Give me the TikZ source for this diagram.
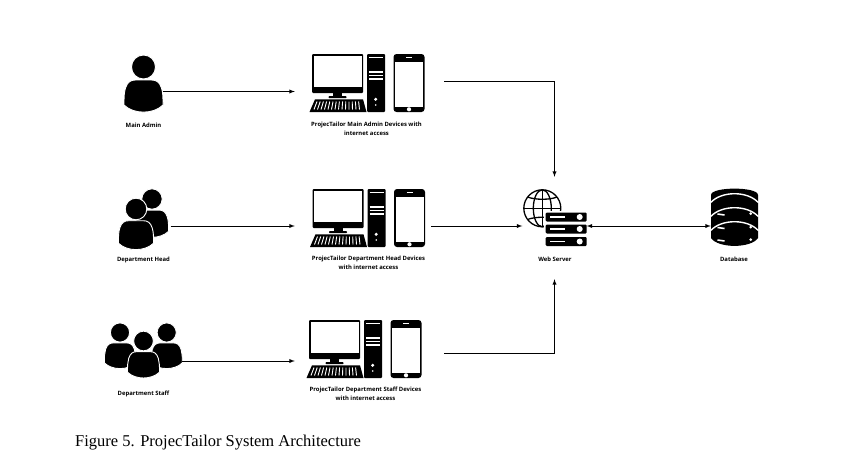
\documentclass[tikz,border=0pt]{standalone}
\usepackage{fontspec}
\setmainfont{Liberation Serif}
\newfontfamily\labelfont{Open Sans}
\usetikzlibrary{positioning}
\tikzset{
  pics/personfig/.style={code={
    \fill [black,draw=white,line width=0.9pt] (-19.5,-38) .. controls (-19.5,-30) and (-19.5,-26) .. (-18,-21) .. controls (-16,-15) and (-13,-13) .. (-8,-13) -- (8,-13) .. controls (13,-13) and (16,-15) .. (18,-21) .. controls (19.5,-26) and (19.5,-30) .. (19.5,-38) .. controls (10,-47.5) and (-10,-47.5) .. cycle;
    \fill [black,draw=white,line width=0.9pt] (0,0) circle (12);
  }},
  pics/devicefig/.style={code={
    \fill [black,rounded corners=1pt] (3,0) rectangle (54,-39);
    \fill [white] (4.5,-2) rectangle (52.5,-32.7);
    \fill [black] (24,-39) rectangle (33,-43);
    \fill [black,rounded corners=0.8pt] (19.5,-42) rectangle (37.5,-44.2);
    \fill [black] (6,-45.3) -- (54,-45.3) -- (57.5,-58) -- (0.5,-58) -- cycle;
    \foreach \i in {0,...,13}
      \draw [white,line width=0.9pt] (8+3.2*\i,-47.5) -- (5+3.5*\i,-55.5);
    \fill [black,rounded corners=1pt] (58,0) rectangle (76,-58);
    \foreach \j in {3.5,18,21.5,25}
      \draw [white,line width=1.4pt] (60,-\j) -- (74,-\j);
    \fill [white] (66.7,-45.3) circle (1.7);
    \fill [white] (66.7,-51) circle (0.8);
    \fill [black,rounded corners=3pt] (84.5,0) rectangle (115.5,-58);
    \fill [white] (86,-7.7) rectangle (114,-52.7);
    \fill [white] (100,-55.3) circle (2.1);
    \draw [white,line width=0.6pt] (97,-3.4) -- (103,-3.4);
  }},
  pics/serverbar/.style={code={
    \fill [black,rounded corners=1.2pt] (0,0) rectangle (41,-9);
    \draw [white,line width=1.8pt] (4.5,-4.5) -- (19.5,-4.5);
    \fill [white] (34,-4.5) circle (3);
  }},
  pics/dbcurve/.style={code={
    \draw [white,line width=1.4pt] (-24,0) .. controls (-13,12) and (13,12) .. (24,0);
  }},
  pics/dbmark/.style={code={
    \draw [white,line width=1.6pt] (-17,0) -- (-10,-1);
    \fill [white] (16.2,0.3) circle (1.5);
  }}
}
\begin{document}
\begin{tikzpicture}[x=1pt,y=1pt]
\tikzstyle{every node}+=[inner sep=0pt]
\tikzstyle{port}=[minimum height=1pt]
\tikzstyle{link}=[black,line width=0.9pt,->,>=latex]
\tikzstyle{globeline}=[black,line width=1.3pt]
\tikzstyle{caption}=[font=\labelfont\bfseries\fontsize{5.9}{8.8}\selectfont,align=center]
\useasboundingbox (0,0) rectangle (866,-463);
\fill [white] (0,0) rectangle (866,-463);
\pic at (143.5,-67) {personfig};
\pic [scale=0.85] at (152,-199) {personfig};
\pic [scale=0.9] at (136,-209) {personfig};
\pic [scale=0.8] at (120,-332.5) {personfig};
\pic [scale=0.8] at (166.7,-332.5) {personfig};
\pic [scale=0.82] at (143.5,-341) {personfig};
\pic at (309,-54) {devicefig};
\pic at (309.5,-189) {devicefig};
\pic at (306,-320) {devicefig};
\draw [globeline] (542.3,-208.3) circle (18.5);
\draw [globeline] (542.3,-208.3) ellipse (9 and 18.5);
\draw [globeline] (542.3,-189.8) -- (542.3,-226.8);
\draw [globeline] (523.8,-208.3) -- (560.8,-208.3);
\draw [globeline] (527.5,-197) .. controls (535,-200) and (550,-200) .. (557,-197);
\draw [globeline] (527.5,-219.5) .. controls (535,-216.5) and (550,-216.5) .. (557,-219.5);
\fill [white] (544,-211) rectangle (590,-250);
\pic at (545.7,-212.5) {serverbar};
\pic at (545.7,-224.5) {serverbar};
\pic at (545.7,-237) {serverbar};
\fill [black] (711,-195) .. controls (711,-186.5) and (758,-186.5) .. (758,-195) -- (758,-238) .. controls (751,-248.5) and (718,-248.5) .. (711,-238) -- cycle;
\pic at (734.5,-202.7) {dbcurve};
\pic at (734.5,-216.7) {dbcurve};
\pic at (734.5,-230.7) {dbcurve};
\pic at (734.5,-214) {dbmark};
\pic at (734.5,-227.5) {dbmark};
\pic at (734.5,-240) {dbmark};
\node (admin) [port,minimum width=39pt] at (143.5,-91.5) {};
\node (head) [port,minimum width=54pt] at (143.5,-226) {};
\node (staff) [port,minimum width=77pt] at (143.5,-361) {};
\node (admindev) [port,minimum width=149pt] at (369.5,-81) {};
\node (headdev) [port,minimum width=136pt] at (363,-226) {};
\node (staffdev) [port,minimum width=149pt] at (369.5,-353) {};
\node (webserver) [minimum width=64pt,minimum height=102pt] at (554.5,-228) {};
\node (database) [port,minimum width=47pt] at (734.5,-226) {};
\draw [link] (admin.east) -- (admin.east -| admindev.west);
\draw [link] (head.east) -- (head.east -| headdev.west);
\draw [link] (staff.east) -- (staff.east -| staffdev.west);
\draw [link] (admindev.east) -| (webserver.north);
\draw [link] (headdev.east) -- (headdev.east -| webserver.west);
\draw [link] (staffdev.east) -| (webserver.south);
\draw [link,<->] (webserver.east |- database.west) -- (database.west);
\node (admintext) [caption] at (143.5,-125) {Main Admin};
\node (headtext) [caption] at (143.5,-259.5) {Department Head};
\node (stafftext) [caption] at (143.5,-394) {Department Staff};
\node (admindevtext) [caption] at (366.5,-129) {ProjecTailor Main Admin Devices with\\internet access};
\node (headdevtext) [caption] at (368.5,-262.5) {ProjecTailor Department Head Devices\\with internet access};
\node (staffdevtext) [caption] at (365.5,-393.5) {ProjecTailor Department Staff Devices\\with internet access};
\node (webtext) [caption] at (555,-259.5) {Web Server};
\node (dbtext) [caption] at (734,-259.5) {Database};
\node (figtext) [anchor=west,font=\fontsize{16.5}{18}\selectfont] at (75,-443) {Figure 5. ProjecTailor System Architecture};
\end{tikzpicture}
\end{document}
